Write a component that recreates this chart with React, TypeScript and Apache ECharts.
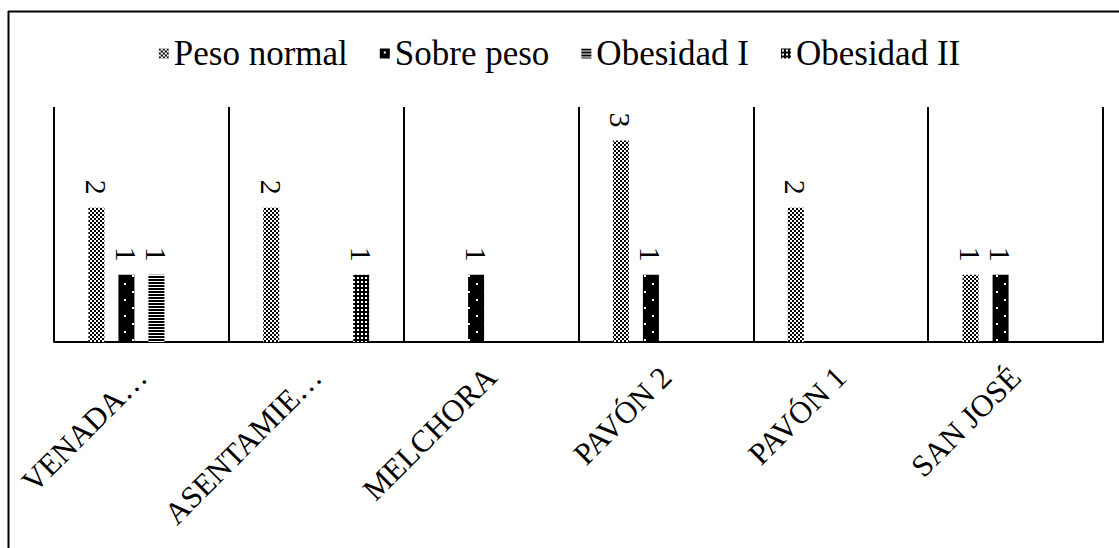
import React, { useEffect, useRef } from "react";
import * as echarts from "echarts";

const categories = ["VENADA…", "ASENTAMIE…", "MELCHORA", "PAVÓN 2", "PAVÓN 1", "SAN JOSÉ"];
const seriesNames = ["Peso normal", "Sobre peso", "Obesidad I", "Obesidad II"];
const pesoNormal = [2, 2, null, 3, 2, 1];
const sobrePeso = [1, null, 1, 1, null, 1];
const obesidadI = [1, null, null, null, null, null];
const obesidadII = [null, 1, null, null, null, null];

const FONT = "Liberation Serif";

function makePattern(w: number, h: number, draw: (ctx: CanvasRenderingContext2D) => void) {
  const c = document.createElement("canvas");
  c.width = w;
  c.height = h;
  const ctx = c.getContext("2d")!;
  ctx.fillStyle = "#fff";
  ctx.fillRect(0, 0, w, h);
  ctx.fillStyle = "#000";
  draw(ctx);
  return { image: c.toDataURL(), imageWidth: w, imageHeight: h, repeat: "repeat" } as any;
}

export default function App() {
  const ref = useRef<HTMLDivElement>(null);
  useEffect(() => {
    if (!ref.current) return;
    const chart = echarts.init(ref.current, null, { renderer: "svg" });

    const checker = makePattern(4, 4, (ctx) => {
      ctx.fillRect(0, 0, 2, 2);
      ctx.fillRect(2, 2, 2, 2);
    });
    const dots = makePattern(16, 16, (ctx) => {
      ctx.fillRect(0, 0, 16, 16);
      ctx.fillStyle = "#fff";
      ctx.fillRect(4, 3, 2, 2);
      ctx.fillRect(12, 11, 2, 2);
    });
    const hlines = makePattern(4, 3, (ctx) => {
      ctx.fillRect(0, 0, 4, 2);
    });
    const grid = makePattern(4, 4, (ctx) => {
      ctx.fillRect(0, 0, 4, 4);
      ctx.fillStyle = "#fff";
      ctx.fillRect(1, 1, 2, 2);
    });
    const patterns = [checker, dots, hlines, grid];
    const datas = [pesoNormal, sobrePeso, obesidadI, obesidadII];

    chart.setOption({
      animation: false,
      backgroundColor: "#fff",
      textStyle: { fontFamily: FONT, color: "#000" },
      legend: {
        top: 31,
        left: "center",
        itemWidth: 10,
        itemHeight: 10,
        itemGap: 32,
        icon: "rect",
        textStyle: { fontFamily: "Times New Roman", fontSize: 35, color: "#000", fontWeight: "normal" },
        data: seriesNames,
      },
      grid: { left: 54, right: 16, top: 107, bottom: 206 },
      xAxis: {
        type: "category",
        data: categories,
        axisLine: { show: true, lineStyle: { color: "#000", width: 2 } },
        axisTick: { show: false },
        splitLine: { show: true, interval: 0, lineStyle: { color: "#000", width: 2 } },
        axisLabel: {
          interval: 0,
          rotate: 45,
          margin: 30,
          fontFamily: FONT,
          fontSize: 31,
          color: "#000",
        },
      },
      yAxis: {
        type: "value",
        min: 0,
        max: 3.5,
        show: false,
        splitLine: { show: false },
      },
      graphic: [
        { type: "line", shape: { x1: 8.5, y1: 11, x2: 8.5, y2: 548 }, style: { stroke: "#000", lineWidth: 2 } },
        { type: "line", shape: { x1: 8, y1: 11.5, x2: 1119, y2: 11.5 }, style: { stroke: "#000", lineWidth: 2 } },
      ],
      series: seriesNames.map((name, i) => ({
        name,
        type: "bar",
        data: datas[i],
        barWidth: 16,
        barGap: "87.5%",
        itemStyle: { color: patterns[i] },
        label: {
          show: true,
          position: "top",
          distance: 13,
          rotate: -90,
          align: "right",
          verticalAlign: "middle",
          fontFamily: "serif",
          fontSize: 30,
          color: "#000",
        },
      })),
    });
    return () => chart.dispose();
  }, []);
  return (
    <div
      ref={ref}
      style={{ position: "absolute", left: 0, top: 0, width: 1119, height: 548 }}
    />
  );
}
